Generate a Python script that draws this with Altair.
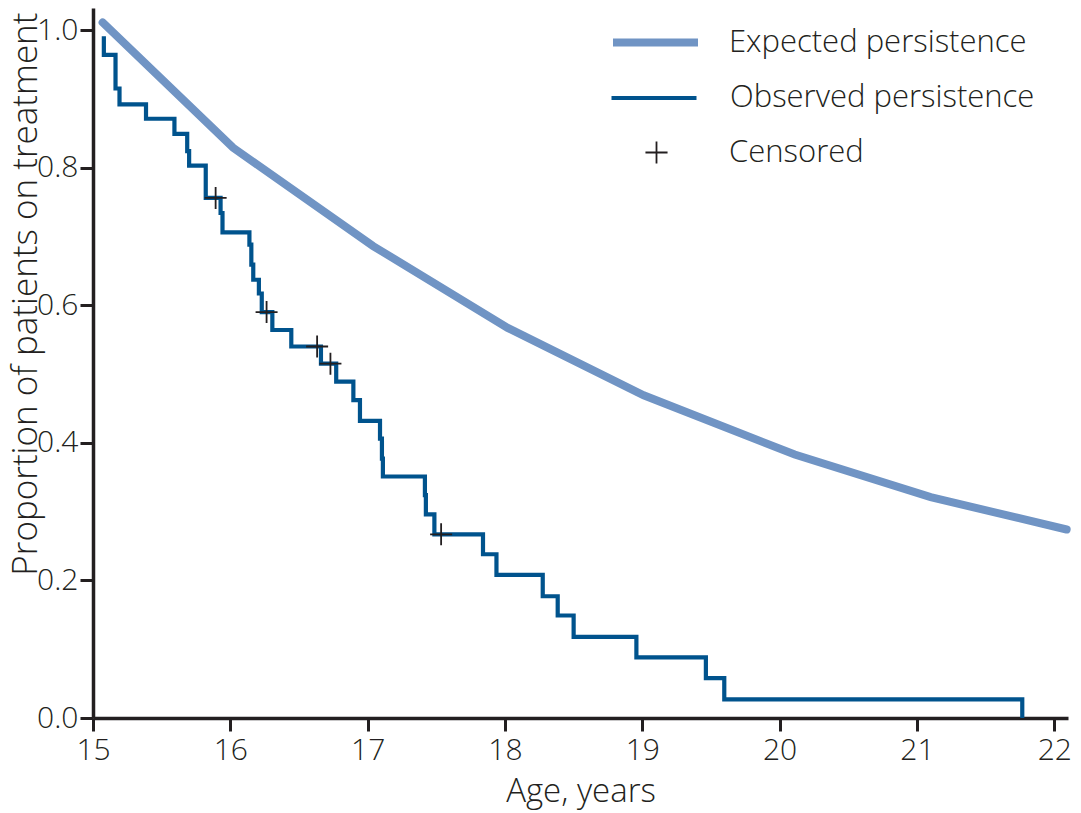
import altair as alt
import pandas as pd

FONT = "Open Sans"
INK = "#231f20"

# Expected persistence (age in years, proportion)
exp_age = [15.07, 16.02, 17.04, 18.02, 19.01, 20.11, 21.10, 22.09]
exp_prop = [1.011, 0.829, 0.686, 0.567, 0.469, 0.383, 0.321, 0.274]

# Observed persistence (Kaplan-Meier step: age of change, level after change)
obs_age = [15.079, 15.079, 15.164, 15.193, 15.386, 15.593, 15.686, 15.700, 15.821,
           15.929, 15.943, 16.139, 16.153, 16.167, 16.208, 16.229, 16.306, 16.444,
           16.660, 16.771, 16.896, 16.944, 17.090, 17.104, 17.111, 17.417, 17.424,
           17.486, 17.840, 17.938, 18.275, 18.384, 18.500, 18.957, 19.463, 19.597,
           21.767]
obs_prop = [0.991, 0.964, 0.915, 0.892, 0.871, 0.849, 0.824, 0.803, 0.756,
            0.734, 0.706, 0.688, 0.659, 0.637, 0.617, 0.590, 0.564, 0.540,
            0.515, 0.489, 0.462, 0.432, 0.406, 0.377, 0.351, 0.324, 0.296,
            0.267, 0.238, 0.208, 0.177, 0.149, 0.118, 0.088, 0.058, 0.027,
            0.0]

# Censored observations
cens_age = [15.893, 16.264, 16.632, 16.729, 17.535]
cens_prop = [0.756, 0.590, 0.540, 0.515, 0.267]

x_ticks = [15, 16, 17, 18, 19, 20, 21, 22]
y_ticks = [0.0, 0.2, 0.4, 0.6, 0.8, 1.0]

series = ["Expected persistence", "Observed persistence", "Censored"]
colors = ["#7094c4", "#00538d", "#231f20"]

exp_df = pd.DataFrame({"age": exp_age, "prop": exp_prop, "series": series[0]})
obs_df = pd.DataFrame({"age": obs_age, "prop": obs_prop, "series": series[1],
                       "idx": list(range(len(obs_age)))})
cens_df = pd.DataFrame({"age": cens_age, "prop": cens_prop, "series": series[2]})

x_enc = alt.X("age:Q", scale=alt.Scale(domain=[15, 22.1], nice=False, zero=False),
              axis=alt.Axis(values=x_ticks, format="d", title="Age, years",
                            labelFlush=False, labelOverlap=False,
                            labelPadding=4, titlePadding=10, titleFontSize=33))
y_enc = alt.Y("prop:Q", scale=alt.Scale(domain=[0, 1.032], nice=False),
              axis=alt.Axis(values=y_ticks, format=".1f",
                            title="Proportion of patients on treatment",
                            titleFontSize=35, titleAngle=270,
                            titleX=-57, titleY=4, titleAlign="right",
                            titleBaseline="alphabetic",
                            labelPadding=2,
                            labelFlush=False, labelOverlap=False))


def make_legend(x, y, stype, swidth, offset):
    return alt.Legend(
        title=None, orient="none", legendX=x, legendY=y, direction="vertical",
        symbolType=stype, symbolSize=7225, symbolStrokeWidth=swidth,
        symbolFillColor="transparent",
        labelFontSize=31, labelFont=FONT, labelFontWeight=300, labelColor=INK,
        labelOffset=offset, labelLimit=500, padding=0,
    )


expected = alt.Chart(exp_df).mark_line(strokeWidth=8, strokeCap="round").encode(
    x=x_enc, y=y_enc,
    color=alt.Color("series:N", scale=alt.Scale(domain=[series[0]], range=[colors[0]]),
                    legend=make_legend(516, -12, "stroke", 8, 27)))

observed = alt.Chart(obs_df).mark_line(strokeWidth=4.2, interpolate="step-after").encode(
    x="age:Q", y="prop:Q", order="idx:Q",
    color=alt.Color("series:N", scale=alt.Scale(domain=[series[1]], range=[colors[1]]),
                    legend=make_legend(516, 45, "stroke", 4.2, 31)))

censored = alt.Chart(cens_df).mark_point(
    shape="M-1,0H1M0,-1V1", size=484, filled=False, strokeWidth=1.8, opacity=1).encode(
    x="age:Q", y="prop:Q",
    color=alt.Color("series:N", scale=alt.Scale(domain=[series[2]], range=[colors[2]]),
                    legend=make_legend(520, 101, "M-0.26,0H0.26M0,-0.26V0.26", 1.8, 29)))

chart = alt.layer(expected, observed, censored).resolve_scale(
    color="independent").resolve_legend(color="independent").properties(
    width=975, height=710,
    autosize=alt.AutoSizeParams(type="none"),
    padding={"left": 85, "top": 0, "right": 5, "bottom": 95},
).configure_view(stroke=None).configure_axis(
    grid=False, domainColor=INK, domainWidth=3.5, tickColor=INK, tickWidth=3,
    tickSize=13, labelFont=FONT, labelFontSize=30, labelFontWeight=300,
    labelColor=INK, titleFont=FONT, titleFontWeight=300,
    titleColor=INK,
)

chart.save("out.html", embed_options={"renderer": "svg", "actions": False})
